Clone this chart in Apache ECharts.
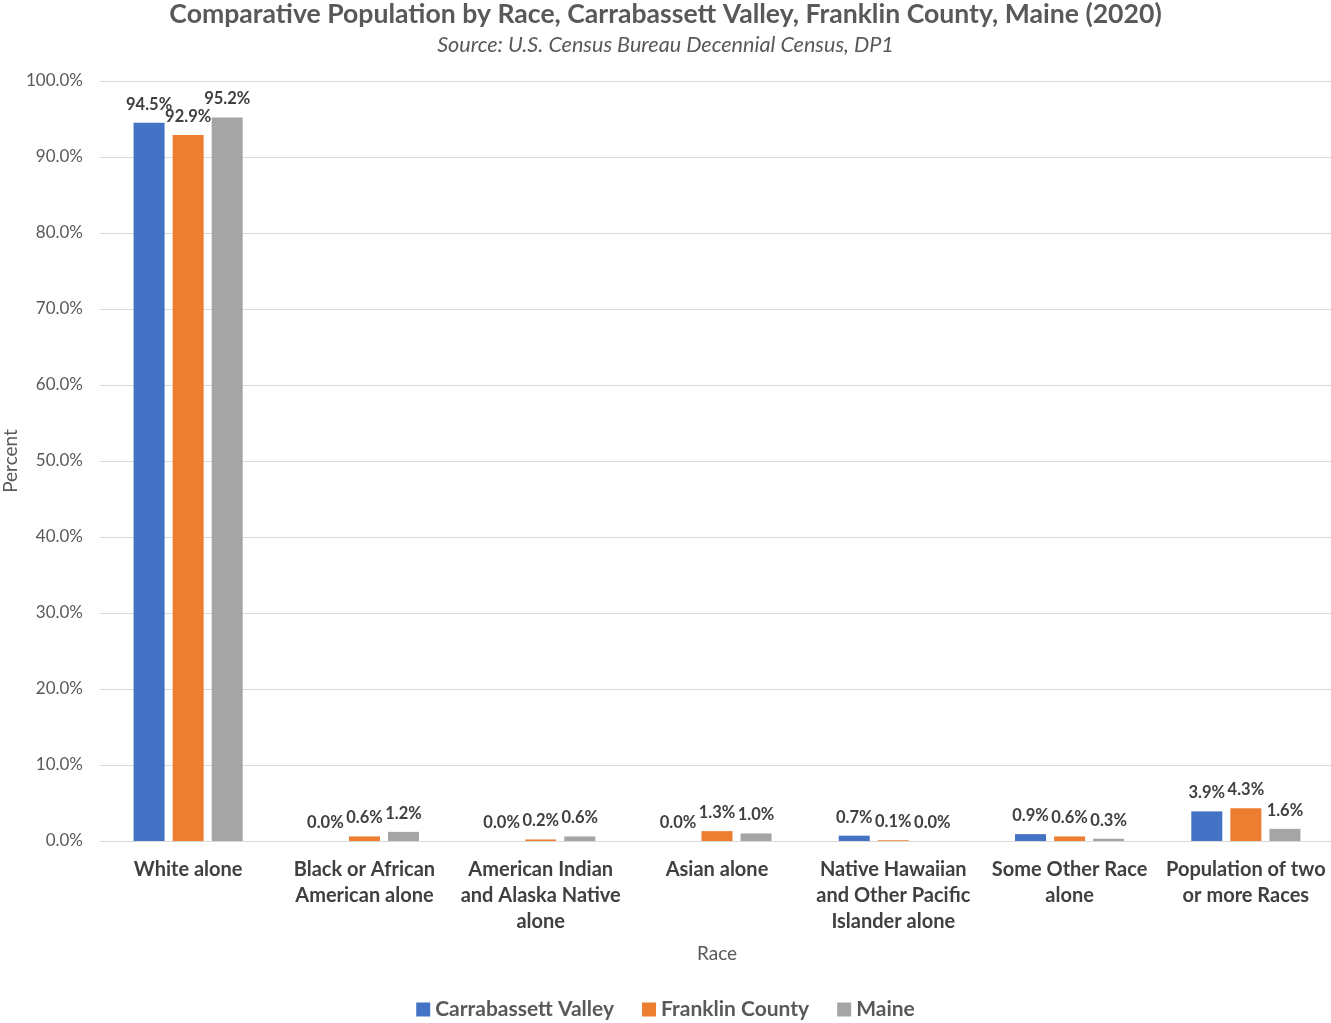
<!DOCTYPE html>
<html><head><meta charset="utf-8">
<script src="https://cdn.jsdelivr.net/npm/echarts@6/dist/echarts.min.js"></script>
<style>html,body{margin:0;padding:0;background:#fff}#c{width:1331px;height:1023px}</style>
</head><body><div id="c"></div>
<script>
var categories = ["White alone", "Black or African\nAmerican alone", "American Indian\nand Alaska Native\nalone", "Asian alone", "Native Hawaiian\nand Other Pacific\nIslander alone", "Some Other Race\nalone", "Population of two\nor more Races"];
var seriesNames = ["Carrabassett Valley", "Franklin County", "Maine"];
var carrabassett = [94.5, 0.0, 0.0, 0.0, 0.7, 0.9, 3.9];
var franklin = [92.9, 0.6, 0.2, 1.3, 0.1, 0.6, 4.3];
var maine = [95.2, 1.2, 0.6, 1.0, 0.0, 0.3, 1.6];
var colors = ["#4472C4", "#ED7D31", "#A5A5A5"];
var FONT = "Lato, 'Noto Sans', sans-serif";

var chart = echarts.init(document.getElementById('c'));
function mk(name, data, color) {
  return {
    name: name, type: 'bar', data: data, barWidth: 31, barGap: '26%',
    itemStyle: { color: color },
    label: { show: true, position: 'top', distance: 10, fontFamily: FONT, fontWeight: 'bold', fontSize: 16.5, color: '#404040',
      formatter: function (p) { return p.value.toFixed(1) + '%'; } }
  };
}
chart.setOption({
  animation: false,
  color: colors,
  title: [
    { text: 'Comparative Population by Race, Carrabassett Valley, Franklin County, Maine (2020)', left: 'center', top: -4,
      textStyle: { fontFamily: FONT, fontSize: 26.6, fontWeight: 'bold', color: '#595959' } },
    { text: 'Source: U.S. Census Bureau Decennial Census, DP1', left: 'center', top: 29,
      textStyle: { fontFamily: FONT, fontSize: 21.6, fontStyle: 'italic', fontWeight: 'normal', color: '#595959' } }
  ],
  legend: {
    bottom: -2, left: 'center', itemWidth: 14, itemHeight: 14, itemGap: 28, icon: 'rect',
    textStyle: { fontFamily: FONT, fontSize: 21, fontWeight: 'bold', color: '#595959' },
    data: seriesNames
  },
  grid: { left: 100, right: -3, top: 81, bottom: 182, containLabel: false, outerBoundsMode: 'none' },
  xAxis: {
    type: 'category', data: categories, name: 'Race', nameLocation: 'middle', nameGap: 103,
    nameTextStyle: { fontFamily: FONT, fontSize: 19, color: '#595959' },
    axisLine: { lineStyle: { color: '#d9d9d9' } }, axisTick: { show: false },
    axisLabel: { interval: 0, fontFamily: FONT, fontSize: 20, fontWeight: 'bold', color: '#404040', lineHeight: 26, margin: 16 }
  },
  yAxis: {
    type: 'value', min: 0, max: 100, interval: 10, name: 'Percent', nameLocation: 'middle', nameGap: 80, nameMoveOverlap: false,
    nameTextStyle: { fontFamily: FONT, fontSize: 19, color: '#595959' },
    axisLabel: { fontFamily: FONT, fontSize: 17, color: '#595959', margin: 17, formatter: function (v) { return v.toFixed(1) + '%'; } },
    splitLine: { lineStyle: { color: '#d9d9d9' } }, axisLine: { show: false }
  },
  series: [mk(seriesNames[0], carrabassett, colors[0]), mk(seriesNames[1], franklin, colors[1]), mk(seriesNames[2], maine, colors[2])]
});
</script></body></html>
